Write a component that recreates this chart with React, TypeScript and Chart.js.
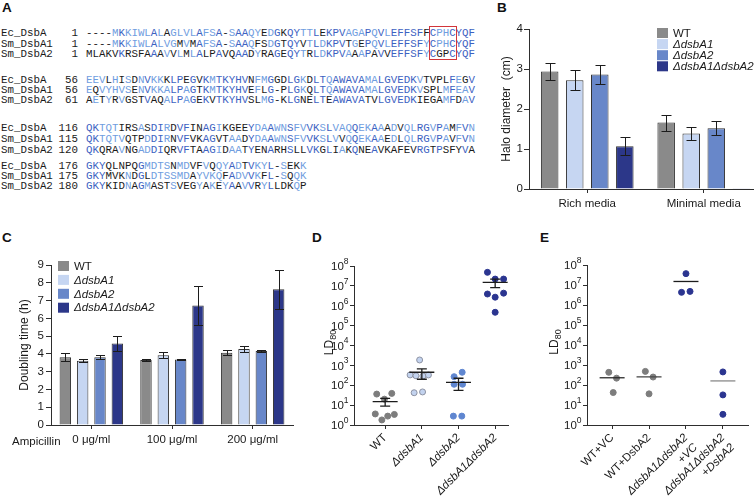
import React, { useEffect, useRef } from 'react';
import { Chart, registerables } from 'chart.js';
Chart.register(...registerables);

const SANS = '"Liberation Sans", Arial, Helvetica, sans-serif';
const MONO = '"Liberation Mono", "Courier New", Courier, monospace';
const TEXT = '#1a1a1a';
const AXIS = '#2e2e2e';

// ---------------- Panel A: alignment ----------------
const seqNames = ['Ec_DsbA', 'Sm_DsbA1', 'Sm_DsbA2'];
const alignBlock1 = [
  '----MKKIWLALAGLVLAFSA-SAAQYEDGKQYTTLEKPVAGAPQVLEFFSFFCPHCYQF',
  '----MKKIWLALVGMVMAFSA-SAAQFSDGTQYVTLDKPVTGEPQVLEFFSFYCPHCYQF',
  'MLAKVKRSFAAAVVLMLALPAVQAADYRAGEQYTRLDKPVAAAPAVVEFFSFYCGPCYQF',
];
const alignBlock2 = [
  'EEVLHISDNVKKKLPEGVKMTKYHVNFMGGDLGKDLTQAWAVAMALGVEDKVTVPLFEGV',
  'EQVYHVSENVKKALPAGTKMTKYHVEFLG-PLGKQLTQAWAVAMALGVEDKVSPLMFEAV',
  'AETYRVGSTVAQALPAGEKVTKYHVSLMG-KLGNELTEAWAVATVLGVEDKIEGAMFDAV',
];
const alignBlock3 = [
  'QKTQTIRSASDIRDVFINAGIKGEEYDAAWNSFVVKSLVAQQEKAAADVQLRGVPAMFVN',
  'QKTQTVQTPDDIRNVFVKAGVTAADYDAAWNSFVVKSLVVQQEKAAEDLQLRGVPAVFVN',
  'QKQRAVNGADDIQRVFTAAGIDAATYENARHSLLVKGLIAKQNEAVKAFEVRGTPSFYVA',
];
const alignBlock4 = [
  'GKYQLNPQGMDTSNMDVFVQQYADTVKYL-SEKK',
  'GKYMVKNDGLDTSSMDAYVKQFADVVKFL-SQQK',
  'GKYKIDNAGMASTSVEGYAKEYAAVVRYLLDKQP',
];
const alignStarts = [[1, 1, 1], [56, 56, 61], [116, 115, 120], [176, 175, 180]];

// layout of the alignment rows (page y of row centres)
const A_ROW_Y = [[33, 44, 54], [80, 90, 100], [128, 139, 150], [166, 176, 186]];

const ID3 = '#3d62c2';
const ID2 = '#6f9de0';

function residueColor(block: string[], r: number, c: number) {
  const ch = block[r][c];
  if (ch === '-' || ch === undefined) return TEXT;
  let n = 0;
  for (const s of block) if (s[c] === ch) n++;
  if (n === 3) return ID3;
  if (n === 2) return ID2;
  return TEXT;
}

// ---------------- shared series ----------------
const seriesLabels = ['WT', 'ΔdsbA1', 'ΔdsbA2', 'ΔdsbA1ΔdsbA2'];
const seriesColors = ['#8a8a8a', '#c6d6f2', '#6887c9', '#2c3789'];

// ---------------- Panel B ----------------
const haloCategories = ['Rich media', 'Minimal media'];
const haloWT = [2.94, 1.66];
const haloWTErr = [0.22, 0.2];
const haloA1 = [2.72, 1.39];
const haloA1Err = [0.25, 0.16];
const haloA2 = [2.86, 1.52];
const haloA2Err = [0.23, 0.17];
const haloA1A2 = [1.07, 0.02];
const haloA1A2Err = [0.23, 0];
const haloTicks = [0, 1, 2, 3, 4];

// ---------------- Panel C ----------------
const ampCategories = ['0 μg/ml', '100 μg/ml', '200 μg/ml'];
const dtWT = [3.81, 3.66, 4.07];
const dtWTErr = [0.22, 0.07, 0.13];
const dtA1 = [3.62, 3.92, 4.27];
const dtA1Err = [0.07, 0.16, 0.19];
const dtA2 = [3.81, 3.69, 4.16];
const dtA2Err = [0.12, 0.04, 0.04];
const dtA1A2 = [4.59, 6.72, 7.63];
const dtA1A2Err = [0.4, 1.08, 1.08];

// ---------------- Panel D ----------------
const ldTickValues = [1, 10, 100, 1e3, 1e4, 1e5, 1e6, 1e7, 1e8];
const ldTickBase = '10';
const ldTickExp = ['0', '1', '2', '3', '4', '5', '6', '7', '8'];
const dCategories = ['WT', 'ΔdsbA1', 'ΔdsbA2', 'ΔdsbA1ΔdsbA2'];
const dItalic = [false, true, true, true];
const dWT = [36, 39, 20, 3.6, 1.8, 2.8, 3.4];
const dWTJitter = [-0.23, 0.18, -0.02, -0.27, -0.09, 0.07, 0.25];
const dA1 = [1870, 330, 300, 290, 330, 42, 46];
const dA1Jitter = [-0.06, -0.32, -0.16, 0.03, 0.18, -0.21, 0.02];
const dA2 = [270, 450, 112, 112, 2.8, 2.8];
const dA2Jitter = [-0.12, 0.1, -0.12, 0.11, -0.14, 0.09];
const dA1A2 = [4.8e7, 2.2e7, 2.2e7, 3.9e6, 2.7e6, 4.3e6, 4.7e5];
const dA1A2Jitter = [-0.21, 0, 0.23, -0.21, 0, 0.23, 0];
const dMean = [15, 450, 140, 1.5e7];
const dSemLow = [9, 200, 55, 8.1e6];
const dSemHigh = [22, 660, 225, 2.2e7];

// ---------------- Panel E ----------------
const eCategories: any[] = ['WT+VC', 'WT+DsbA2', ['ΔdsbA1ΔdsbA2', '+VC'], ['ΔdsbA1ΔdsbA2', '+DsbA2']];
const eItalic = [false, false, true, true];
const eWTVC = [430, 220, 42];
const eWTVCJitter = [-0.09, 0.12, 0.03];
const eWTDsbA2 = [480, 250, 36];
const eWTDsbA2Jitter = [-0.1, 0.11, 0];
const eDblVC = [3.7e7, 4.3e6, 4.8e6];
const eDblVCJitter = [0, -0.12, 0.11];
const eDblDsbA2 = [450, 32, 3.4];
const eDblDsbA2Jitter = [0, 0, 0];
const eMean = [230, 255, 1.5e7, 160];

const ldTitleMain = 'LD';
const ldTitleSub = '80';

// ---------------- helpers ----------------
type Rect = { x: number; y: number; w: number; h: number };
type Area = { l: number; r: number; t: number; b: number };

function frame(c: Rect, a: Area, titleX: number, titleSize = 12) {
  const padLeft = titleX - c.x - (titleSize * 1.2) / 2;
  return {
    padding: { left: padLeft, top: a.t - c.y, right: c.x + c.w - a.r, bottom: 0 },
    yWidth: a.l - c.x - padLeft,
    xHeight: c.y + c.h - a.b,
  };
}

const errorBarPlugin = (capHalf: number) => ({
  id: 'errBars',
  afterDatasetsDraw(chart: any) {
    const ctx = chart.ctx;
    const y = chart.scales.y;
    ctx.save();
    ctx.strokeStyle = '#1c1c1c';
    ctx.lineWidth = 1;
    chart.data.datasets.forEach((ds: any, i: number) => {
      const meta = chart.getDatasetMeta(i);
      meta.data.forEach((el: any, j: number) => {
        const v = ds.data[j];
        const e = ds.errors[j];
        if (!e) return;
        const x = Math.round(el.x) + 0.5;
        const yt = Math.round(y.getPixelForValue(v + e)) + 0.5;
        const yb = Math.round(y.getPixelForValue(v - e)) + 0.5;
        ctx.beginPath();
        ctx.moveTo(x, yt);
        ctx.lineTo(x, yb);
        ctx.moveTo(x - capHalf, yt);
        ctx.lineTo(x + capHalf, yt);
        ctx.moveTo(x - capHalf, yb);
        ctx.lineTo(x + capHalf, yb);
        ctx.stroke();
      });
    });
    ctx.restore();
  },
});

const boxLegendPlugin = (x0: number, y0: number, pitch: number, bw: number, bh: number) => ({
  id: 'boxLegend',
  afterDraw(chart: any) {
    const ctx = chart.ctx;
    ctx.save();
    chart.data.datasets.forEach((ds: any, i: number) => {
      const cy = y0 + i * pitch;
      ctx.fillStyle = ds.backgroundColor;
      ctx.fillRect(x0, cy - bh / 2, bw, bh);
      ctx.font = `${ds.label === 'WT' ? 'normal' : 'italic'} 11.5px ${SANS}`;
      ctx.fillStyle = TEXT;
      ctx.textBaseline = 'middle';
      ctx.textAlign = 'left';
      ctx.fillText(ds.label, x0 + bw + 5, cy + 0.5);
    });
    ctx.restore();
  },
});

const meanPlugin = (means: number[], lows: number[] | null, highs: number[] | null, colors: string[], half: number, capHalf: number) => ({
  id: 'means',
  afterDatasetsDraw(chart: any) {
    const ctx = chart.ctx;
    const xs = chart.scales.x;
    const ys = chart.scales.y;
    ctx.save();
    ctx.lineWidth = 1.3;
    means.forEach((m, i) => {
      const x = xs.getPixelForValue(i);
      const y = ys.getPixelForValue(m);
      ctx.strokeStyle = colors[i];
      ctx.beginPath();
      ctx.moveTo(x - half, y);
      ctx.lineTo(x + half, y);
      if (lows && highs) {
        const yl = ys.getPixelForValue(lows[i]);
        const yh = ys.getPixelForValue(highs[i]);
        ctx.moveTo(x, yl);
        ctx.lineTo(x, yh);
        ctx.moveTo(x - capHalf, yl);
        ctx.lineTo(x + capHalf, yl);
        ctx.moveTo(x - capHalf, yh);
        ctx.lineTo(x + capHalf, yh);
      }
      ctx.stroke();
    });
    ctx.restore();
  },
});

// power-of-ten tick labels and LD80 title, drawn with real super/subscripts
const logLabelPlugin = (titleX: number) => ({
  id: 'logLabels',
  afterDraw(chart: any) {
    const ctx = chart.ctx;
    const ys = chart.scales.y;
    const right = ys.right - 4 - 1.5;
    ctx.save();
    ctx.fillStyle = TEXT;
    ctx.textAlign = 'right';
    ctx.textBaseline = 'middle';
    ldTickValues.forEach((v, i) => {
      const y = ys.getPixelForValue(v);
      ctx.font = `8.5px ${SANS}`;
      const ew = ctx.measureText(ldTickExp[i]).width;
      ctx.fillText(ldTickExp[i], right, y - 4.5);
      ctx.font = `11.5px ${SANS}`;
      ctx.fillText(ldTickBase, right - ew, y + 1);
    });
    // title
    const cy = (ys.top + ys.bottom) / 2 - 3;
    ctx.translate(titleX, cy);
    ctx.rotate(-Math.PI / 2);
    ctx.textAlign = 'left';
    ctx.font = `12px ${SANS}`;
    const w1 = ctx.measureText(ldTitleMain).width;
    ctx.font = `9px ${SANS}`;
    const w2 = ctx.measureText(ldTitleSub).width;
    const x0 = -(w1 + w2) / 2;
    ctx.font = `12px ${SANS}`;
    ctx.fillText(ldTitleMain, x0, 0);
    ctx.font = `9px ${SANS}`;
    ctx.fillText(ldTitleSub, x0 + w1, 4);
    ctx.restore();
  },
});

const tickFont = { family: SANS, size: 11.5 };

function axisCommon(tickLength: number) {
  return {
    grid: { drawOnChartArea: false, drawTicks: true, tickLength, color: AXIS, lineWidth: 1, offset: false },
    border: { display: true, color: AXIS, width: 1 },
  };
}

// ---------------- chart configs ----------------
const B_CANVAS: Rect = { x: 488, y: 14, w: 282, h: 212 };
const B_AREA: Area = { l: 529, r: 762, t: 29, b: 189 };
const C_CANVAS: Rect = { x: 0, y: 250, w: 300, h: 205 };
const C_AREA: Area = { l: 51, r: 293, t: 265, b: 425 };
const D_CANVAS: Rect = { x: 300, y: 250, w: 215, h: 252 };
const D_AREA: Area = { l: 354, r: 508, t: 266, b: 425 };
const E_CANVAS: Rect = { x: 530, y: 250, w: 224, h: 252 };
const E_AREA: Area = { l: 587, r: 748, t: 265, b: 425 };

function makeB() {
  const f = frame(B_CANVAS, B_AREA, 507);
  const vals = [haloWT, haloA1, haloA2, haloA1A2];
  const errs = [haloWTErr, haloA1Err, haloA2Err, haloA1A2Err];
  return {
    type: 'bar',
    data: {
      labels: haloCategories,
      datasets: seriesLabels.map((l, i) => ({
        label: l,
        data: vals[i],
        errors: errs[i],
        backgroundColor: seriesColors[i],
        borderColor: '#333',
        borderWidth: 1,
        categoryPercentage: 0.86,
        barPercentage: 0.7,
      })),
    },
    options: {
      animation: false,
      responsive: false,
      devicePixelRatio: 1,
      layout: { padding: f.padding },
      plugins: { legend: { display: false }, tooltip: { enabled: false } },
      scales: {
        x: {
          ...axisCommon(4),
          ticks: { font: tickFont, color: TEXT, padding: 4, maxRotation: 0 },
          afterFit: (s: any) => { s.height = f.xHeight; s.paddingLeft = 0; s.paddingRight = 0; },
        },
        y: {
          ...axisCommon(5),
          min: 0,
          max: 4,
          afterBuildTicks: (s: any) => { s.ticks = haloTicks.map((v) => ({ value: v })); },
          ticks: { font: tickFont, color: TEXT, padding: 1 },
          title: { display: true, text: 'Halo diameter  (cm)', font: { family: SANS, size: 12 }, color: TEXT, padding: 0 },
          afterFit: (s: any) => { s.width = f.yWidth; s.paddingTop = 0; s.paddingBottom = 0; },
        },
      },
    },
    plugins: [errorBarPlugin(5), boxLegendPlugin(657 - B_CANVAS.x, 33 - B_CANVAS.y, 11.1, 11, 10)],
  };
}

function makeC() {
  const f = frame(C_CANVAS, C_AREA, 25);
  const vals = [dtWT, dtA1, dtA2, dtA1A2];
  const errs = [dtWTErr, dtA1Err, dtA2Err, dtA1A2Err];
  return {
    type: 'bar',
    data: {
      labels: ampCategories,
      datasets: seriesLabels.map((l, i) => ({
        label: l,
        data: vals[i],
        errors: errs[i],
        backgroundColor: seriesColors[i],
        borderColor: '#333',
        borderWidth: 1,
        categoryPercentage: 0.86,
        barPercentage: 0.66,
      })),
    },
    options: {
      animation: false,
      responsive: false,
      devicePixelRatio: 1,
      layout: { padding: f.padding },
      plugins: { legend: { display: false }, tooltip: { enabled: false } },
      scales: {
        x: {
          ...axisCommon(4),
          ticks: { font: tickFont, color: TEXT, padding: 4, maxRotation: 0 },
          afterFit: (s: any) => { s.height = f.xHeight; s.paddingLeft = 0; s.paddingRight = 0; },
        },
        y: {
          ...axisCommon(5),
          min: 0,
          max: 9,
          ticks: { stepSize: 1, font: tickFont, color: TEXT, padding: 2 },
          title: { display: true, text: 'Doubling time (h)', font: { family: SANS, size: 12 }, color: TEXT, padding: 0 },
          afterFit: (s: any) => { s.width = f.yWidth; s.paddingTop = 0; s.paddingBottom = 0; },
        },
      },
    },
    plugins: [errorBarPlugin(4.5), boxLegendPlugin(58 - C_CANVAS.x, 266 - C_CANVAS.y, 13.9, 11, 10)],
  };
}

function ldYAxis(yWidth: number) {
  return {
    ...axisCommon(4),
    type: 'logarithmic',
    min: 1,
    max: 1e8,
    afterBuildTicks: (s: any) => { s.ticks = ldTickValues.map((v) => ({ value: v })); },
    ticks: { display: false },
    title: { display: false },
    afterFit: (s: any) => { s.width = yWidth; s.paddingTop = 0; s.paddingBottom = 0; },
  };
}

function ldXAxis(min: number, max: number, cats: any[], italic: boolean[], xHeight: number) {
  return {
    ...axisCommon(4),
    type: 'linear',
    min,
    max,
    afterBuildTicks: (s: any) => { s.ticks = cats.map((_, i) => ({ value: i })); },
    ticks: {
      autoSkip: false,
      minRotation: 45,
      maxRotation: 45,
      padding: 2,
      color: TEXT,
      font: (c: any) => ({ family: SANS, size: 11.5, style: italic[c.index] ? 'italic' : 'normal' }),
      callback: (v: number) => cats[v],
    },
    afterFit: (s: any) => { s.height = xHeight; s.paddingLeft = 0; s.paddingRight = 0; },
  };
}

function pts(vals: number[], jit: number[], idx: number) {
  return vals.map((v, k) => ({ x: idx + jit[k], y: v }));
}

function makeD() {
  const f = frame(D_CANVAS, D_AREA, 330);
  const groups = [pts(dWT, dWTJitter, 0), pts(dA1, dA1Jitter, 1), pts(dA2, dA2Jitter, 2), pts(dA1A2, dA1A2Jitter, 3)];
  const fills = ['#7d7d7d', '#c3d3ef', '#5f86d0', '#2b3590'];
  const borders = ['#7d7d7d', '#8e93a3', '#5f86d0', '#2b3590'];
  return {
    type: 'scatter',
    data: {
      datasets: groups.map((g, i) => ({
        label: dCategories[i],
        data: g,
        backgroundColor: fills[i],
        borderColor: borders[i],
        borderWidth: 1,
        pointRadius: 3,
      })),
    },
    options: {
      animation: false,
      responsive: false,
      devicePixelRatio: 1,
      layout: { padding: f.padding },
      plugins: { legend: { display: false }, tooltip: { enabled: false } },
      scales: {
        x: ldXAxis(-0.85, 3.35, dCategories, dItalic, f.xHeight),
        y: ldYAxis(f.yWidth),
      },
    },
    plugins: [
      meanPlugin(dMean, dSemLow, dSemHigh, ['#1c1c1c', '#1c1c1c', '#1c1c1c', '#1c1c1c'], 12.5, 5),
      logLabelPlugin(330 - D_CANVAS.x),
    ],
  };
}

function makeE() {
  const f = frame(E_CANVAS, E_AREA, 555);
  const groups = [
    pts(eWTVC, eWTVCJitter, 0),
    pts(eWTDsbA2, eWTDsbA2Jitter, 1),
    pts(eDblVC, eDblVCJitter, 2),
    pts(eDblDsbA2, eDblDsbA2Jitter, 3),
  ];
  const fills = ['#7d7d7d', '#7d7d7d', '#2b3590', '#2b3590'];
  return {
    type: 'scatter',
    data: {
      datasets: groups.map((g, i) => ({
        label: 'E' + i,
        data: g,
        backgroundColor: fills[i],
        borderColor: fills[i],
        borderWidth: 1,
        pointRadius: 3,
      })),
    },
    options: {
      animation: false,
      responsive: false,
      devicePixelRatio: 1,
      layout: { padding: f.padding },
      plugins: { legend: { display: false }, tooltip: { enabled: false } },
      scales: {
        x: ldXAxis(-0.68, 3.68, eCategories, eItalic, f.xHeight),
        y: ldYAxis(f.yWidth),
      },
    },
    plugins: [
      meanPlugin(eMean, null, null, ['#2a2a2a', '#4a4a4a', '#1c1c1c', '#8a8a8a'], 12.5, 0),
      logLabelPlugin(555 - E_CANVAS.x),
    ],
  };
}

function ChartBox({ rect, make }: { rect: Rect; make: () => any }) {
  const ref = useRef<HTMLCanvasElement>(null);
  useEffect(() => {
    const chart = new Chart(ref.current as HTMLCanvasElement, make());
    return () => chart.destroy();
  }, []);
  return (
    <canvas
      ref={ref}
      width={rect.w}
      height={rect.h}
      style={{ position: 'absolute', left: rect.x, top: rect.y, width: rect.w, height: rect.h }}
    />
  );
}

function PanelLetter({ ch, x, y }: { ch: string; x: number; y: number }) {
  return (
    <div style={{ position: 'absolute', left: x, top: y, fontFamily: SANS, fontWeight: 'bold', fontSize: 13.5, lineHeight: '14px', color: '#111' }}>
      {ch}
    </div>
  );
}

function Alignment() {
  const blocks = [alignBlock1, alignBlock2, alignBlock3, alignBlock4];
  return (
    <>
      {blocks.map((blk, b) =>
        blk.map((seq, r) => (
          <div
            key={b + '-' + r}
            style={{
              position: 'absolute',
              left: 0,
              top: A_ROW_Y[b][r] - 7,
              height: 14,
              width: 490,
              lineHeight: '14px',
              fontFamily: MONO,
              fontSize: 10.8,
              whiteSpace: 'pre',
              color: TEXT,
            }}
          >
            <span style={{ position: 'absolute', left: 1 }}>{seqNames[r]}</span>
            <span style={{ position: 'absolute', left: 40, width: 38, textAlign: 'right' }}>{alignStarts[b][r]}</span>
            <span style={{ position: 'absolute', left: 86 }}>
              {seq.split('').map((ch, c) => (
                <span key={c} style={{ color: residueColor(blk, r, c) }}>{ch}</span>
              ))}
            </span>
          </div>
        ))
      )}
      <div style={{ position: 'absolute', left: 429, top: 26, width: 26, height: 32, border: '1px solid #d2353a' }} />
    </>
  );
}

export default function App() {
  return (
    <div style={{ position: 'absolute', left: 0, top: 0, width: 754, height: 502, overflow: 'hidden', background: '#fff' }}>
      <PanelLetter ch="A" x={2} y={1} />
      <PanelLetter ch="B" x={497} y={1} />
      <PanelLetter ch="C" x={2} y={231} />
      <PanelLetter ch="D" x={312} y={231} />
      <PanelLetter ch="E" x={540} y={231} />
      <Alignment />
      <ChartBox rect={B_CANVAS} make={makeB} />
      <ChartBox rect={C_CANVAS} make={makeC} />
      <ChartBox rect={D_CANVAS} make={makeD} />
      <ChartBox rect={E_CANVAS} make={makeE} />
      <div style={{ position: 'absolute', left: 12, top: 434, fontFamily: SANS, fontSize: 11.5, lineHeight: '14px', color: TEXT }}>
        Ampicillin
      </div>
    </div>
  );
}
